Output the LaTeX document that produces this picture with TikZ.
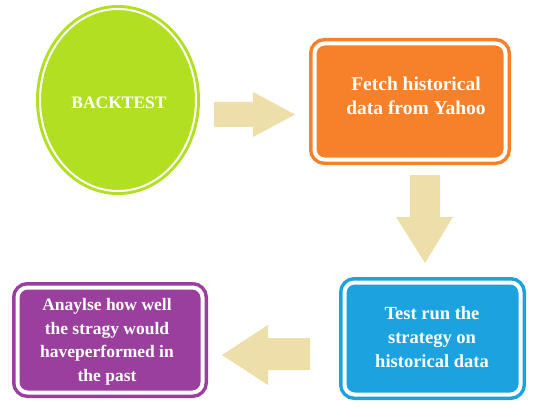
\documentclass[tikz,border=0pt]{standalone}
\usepackage{fontspec}
\newfontfamily\boxfont{LiberationSerif}[Extension=.ttf, UprightFont=*-Bold]
\usetikzlibrary{shapes.geometric}
\definecolor{cgreen}{HTML}{B3DF22}
\definecolor{corange}{HTML}{F7812A}
\definecolor{cblue}{HTML}{1CA2DF}
\definecolor{cpurple}{HTML}{9B3F9F}
\definecolor{cbeige}{HTML}{EEDFAA}
\begin{document}
\begin{tikzpicture}[x=1pt,y=-1pt,
  framebox/.style={draw=#1, fill=#1, double=white, double distance=4pt, line width=3.5pt, rounded corners=10pt, inner sep=0pt},
  boxtext/.style={text=white, align=center, inner sep=0pt},
  blockarrow/.style={fill=cbeige, draw=none}]
\useasboundingbox (0,0) rectangle (534,406);
\fill[white] (0,0) rectangle (534,406);
% circle
\node[ellipse, draw=cgreen, fill=cgreen, double=white, double distance=2pt, line width=3pt,
      minimum width=156pt, minimum height=182pt, inner sep=0pt] (backtest) at (118,100) {};
\node[boxtext, font=\boxfont\fontsize{17.5}{21}\selectfont] (backtesttext) at (119,103) {BACKTEST};
% boxes
\node[framebox=corange, minimum width=191pt, minimum height=116pt] (fetch) at (410,101.5) {};
\node[boxtext, font=\boxfont\fontsize{19.5}{24}\selectfont] (fetchtext) at (416,96) {Fetch historical\\data from Yahoo};
\node[framebox=cblue, minimum width=176pt, minimum height=112pt] (test) at (432.5,338.5) {};
\node[boxtext, font=\boxfont\fontsize{18.5}{24}\selectfont] (testtext) at (432,337) {Test run the\\strategy on\\historical data};
\node[framebox=cpurple, minimum width=185pt, minimum height=105pt] (analyse) at (110,340) {};
\node[boxtext, font=\boxfont\fontsize{17.5}{23.5}\selectfont] (analysetext) at (107,342) {Anaylse how well\\the stragy would\\haveperformed in\\the past};
% block arrows
\fill[blockarrow] (214,102) -- (253,102) -- (253,92) -- (295,114.5) -- (253,137) -- (253,127) -- (214,127) -- cycle;
\fill[blockarrow] (410,175) -- (440,175) -- (440,217) -- (453,217) -- (425,263) -- (396,217) -- (410,217) -- cycle;
\fill[blockarrow] (310,338) -- (268,338) -- (268,325) -- (222,355) -- (268,385) -- (268,370) -- (310,370) -- cycle;
\end{tikzpicture}
\end{document}
